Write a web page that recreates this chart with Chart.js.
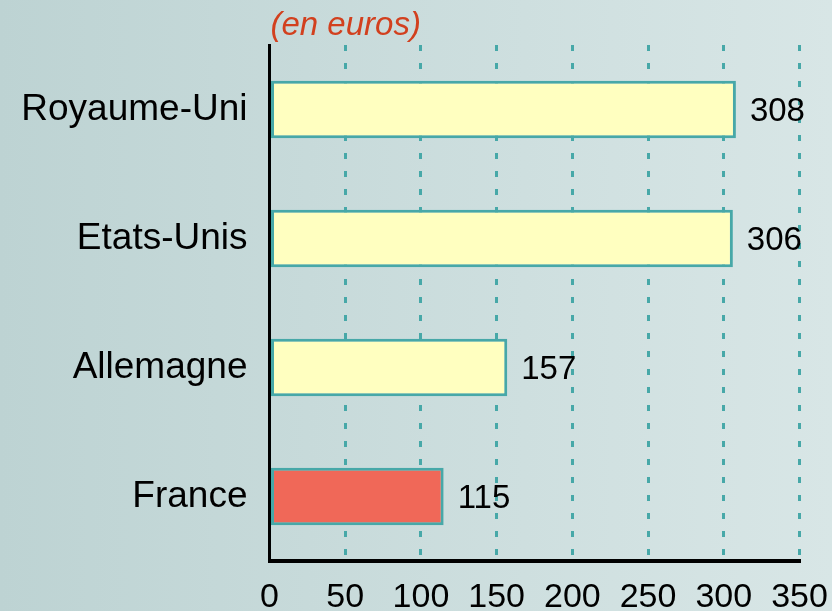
<!DOCTYPE html>
<html>
<head>
<meta charset="utf-8">
<script src="https://cdn.jsdelivr.net/npm/chart.js@4"></script>
<style>
  body { margin: 0; background: linear-gradient(to right, #bdd3d3, #d8e6e6); }
  #wrap { width: 832px; height: 611px; position: relative; }
</style>
</head>
<body>
<div id="wrap"><canvas id="chart"></canvas></div>
<script>
// data
const categories = ["Royaume-Uni", "Etats-Unis", "Allemagne", "France"];
const values = [308, 306, 157, 115];
const xTicks = [0, 50, 100, 150, 200, 250, 300, 350];
const unitLabel = "(en euros)";

const FONT = "'Liberation Sans', Arial, sans-serif";
const teal = "#47a8a8";

// draws the unit label above the plot and the value next to each bar
const labelsPlugin = {
  id: "labels",
  afterDatasetsDraw(chart) {
    const ctx = chart.ctx;
    const area = chart.chartArea;
    ctx.save();
    ctx.fillStyle = "#d2401e";
    ctx.font = "italic 33px " + FONT;
    ctx.textAlign = "left";
    ctx.textBaseline = "alphabetic";
    ctx.fillText(unitLabel, area.left + 1, 35);

    ctx.fillStyle = "#000";
    ctx.font = "33px " + FONT;
    ctx.textBaseline = "middle";
    chart.getDatasetMeta(0).data.forEach((bar, i) => {
      ctx.fillText(String(values[i]), bar.x + 14, bar.y + 2);
    });
    ctx.restore();
  }
};

new Chart(document.getElementById("chart"), {
  type: "bar",
  data: {
    labels: categories,
    datasets: [{
      data: values,
      backgroundColor: categories.map(c => c === "France" ? "#f06858" : "#ffffc0"),
      borderColor: teal,
      borderWidth: 3,
      borderSkipped: false,
      barPercentage: 0.445,
      categoryPercentage: 1
    }]
  },
  options: {
    indexAxis: "y",
    responsive: true,
    maintainAspectRatio: false,
    animation: false,
    layout: { padding: { top: 45, right: 32.5, left: 0, bottom: 0 } },
    plugins: { legend: { display: false }, tooltip: { enabled: false } },
    scales: {
      x: {
        min: xTicks[0],
        max: xTicks[xTicks.length - 1],
        afterBuildTicks: s => { s.ticks = xTicks.map(v => ({ value: v })); },
        afterFit: s => { s.height = 50; s.paddingLeft = 0; s.paddingRight = 0; },
        grid: { color: teal, lineWidth: 3, drawTicks: false },
        border: { display: true, color: "#000", width: 4, dash: [6, 12] },
        ticks: { color: "#000", font: { family: FONT, size: 34 }, padding: 16 }
      },
      y: {
        afterFit: s => { s.width = 269.5; },
        grid: { display: false, drawTicks: false },
        border: { display: true, color: "#000", width: 3 },
        ticks: { color: "#000", font: { family: FONT, size: 37 }, padding: 22 }
      }
    }
  },
  plugins: [labelsPlugin]
});
</script>
</body>
</html>
